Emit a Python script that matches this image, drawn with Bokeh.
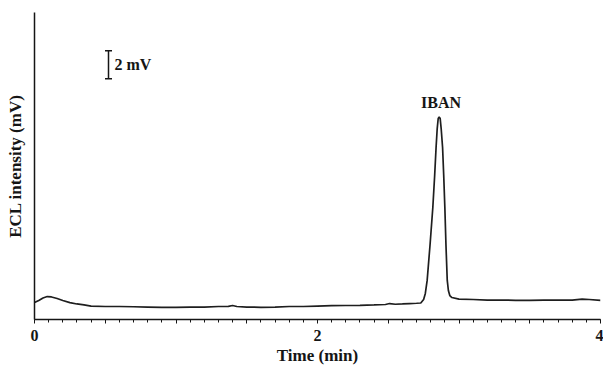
from bokeh.plotting import figure
from bokeh.models import Range1d, FixedTicker, Label, CustomJSTickFormatter
from bokeh.embed import file_html
from bokeh.resources import INLINE

# Chromatogram: time (min) vs ECL intensity (mV above axis baseline)
time_min = [0.00, 0.03, 0.06, 0.09, 0.12, 0.16, 0.20, 0.25, 0.30, 0.35, 0.40, 0.50,
            0.60, 0.70, 0.80, 0.90, 1.00, 1.10, 1.20, 1.30, 1.37, 1.40, 1.43, 1.50,
            1.60, 1.70, 1.80, 1.90, 2.00, 2.10, 2.20, 2.30, 2.40, 2.48, 2.51, 2.55,
            2.60, 2.65, 2.70, 2.73, 2.75, 2.762, 2.775, 2.795, 2.815, 2.828, 2.838,
            2.846, 2.853, 2.860, 2.867, 2.874, 2.884, 2.892, 2.900, 2.908, 2.917,
            2.925, 2.935, 2.95, 3.00, 3.10, 3.20, 3.30, 3.40, 3.50, 3.60, 3.70, 3.80,
            3.87, 3.92, 4.00]
ecl_mv = [1.21, 1.36, 1.54, 1.64, 1.61, 1.50, 1.36, 1.21, 1.11, 1.04, 0.96, 0.93,
          0.93, 0.91, 0.89, 0.87, 0.87, 0.89, 0.89, 0.93, 0.94, 1.00, 0.93, 0.89,
          0.87, 0.89, 0.93, 0.93, 0.96, 0.99, 1.00, 1.01, 1.04, 1.07, 1.14, 1.09,
          1.11, 1.14, 1.16, 1.18, 1.43, 1.86, 2.79, 5.29, 8.00, 10.29, 12.29,
          13.64, 14.36, 14.46, 14.36, 13.64, 12.29, 10.29, 8.00, 5.29, 2.79,
          2.07, 1.71, 1.57, 1.46, 1.43, 1.39, 1.39, 1.37, 1.37, 1.39, 1.39, 1.39,
          1.46, 1.43, 1.36]

major_ticks = [0, 0.5, 1, 1.5, 2, 2.5, 3, 3.5, 4]
minor_ticks = [i / 10 for i in range(0, 41)]

peak_name = "IBAN"
peak_time = 2.873
peak_label_y = 15.5

scale_x = 0.523
scale_y0 = 17.2
scale_y1 = 19.2
scale_text = "2 mV"

FONT = "Liberation Serif"
INK = "#151515"

p = figure(width=603, height=367, output_backend="svg", toolbar_location=None,
           x_range=Range1d(0, 4.0), y_range=Range1d(0, 21.93),
           min_border_left=34, min_border_right=3, min_border_top=12, min_border_bottom=0)
p.outline_line_color = None
p.xgrid.visible = False
p.ygrid.visible = False
p.background_fill_color = "white"
p.border_fill_color = "white"

p.line(time_min, ecl_mv, line_color="#1e1e1e", line_width=1.7)

# scale bar
p.segment(x0=[scale_x], y0=[scale_y0], x1=[scale_x], y1=[scale_y1], line_color=INK, line_width=1.5)
p.scatter(x=[scale_x, scale_x], y=[scale_y0, scale_y1], marker="dash", size=7,
          line_color=INK, line_width=1.5)
p.add_layout(Label(x=scale_x, y=(scale_y0 + scale_y1) / 2, x_offset=6, text=scale_text,
                   text_font=FONT, text_font_style="bold", text_font_size="16px",
                   text_baseline="middle", text_align="left", text_color=INK))
p.add_layout(Label(x=peak_time, y=peak_label_y, text=peak_name,
                   text_font=FONT, text_font_style="bold", text_font_size="16px",
                   text_baseline="alphabetic", text_align="center", text_color=INK))

xa = p.xaxis[0]
xa.ticker = FixedTicker(ticks=major_ticks, minor_ticks=minor_ticks)
xa.formatter = CustomJSTickFormatter(code="return (Math.abs(tick % 2) < 1e-9) ? tick.toFixed(0) : '';")
xa.axis_label = "Time (min)"
xa.axis_label_text_font = FONT
xa.axis_label_text_font_style = "bold"
xa.axis_label_text_font_size = "17px"
xa.axis_label_text_color = INK
xa.axis_label_standoff = 2
xa.major_label_text_font = FONT
xa.major_label_text_font_style = "bold"
xa.major_label_text_font_size = "16px"
xa.major_label_text_color = INK
xa.major_label_standoff = 6
xa.major_tick_in = 0
xa.major_tick_out = 4
xa.minor_tick_in = 0
xa.minor_tick_out = 3
xa.axis_line_width = 1.5
xa.axis_line_color = INK
xa.major_tick_line_color = INK
xa.minor_tick_line_color = INK

ya = p.yaxis[0]
ya.ticker = FixedTicker(ticks=[])
ya.major_tick_out = 0
ya.major_tick_in = 0
ya.minor_tick_out = 0
ya.minor_tick_in = 0
ya.major_label_text_font_size = "0px"
ya.axis_label = "ECL intensity (mV)"
ya.axis_label_text_font = FONT
ya.axis_label_text_font_style = "bold"
ya.axis_label_text_font_size = "17px"
ya.axis_label_text_color = INK
ya.axis_label_standoff = 10
ya.axis_line_width = 1.5
ya.axis_line_color = INK

open("out.html", "w").write(file_html(p, INLINE))
